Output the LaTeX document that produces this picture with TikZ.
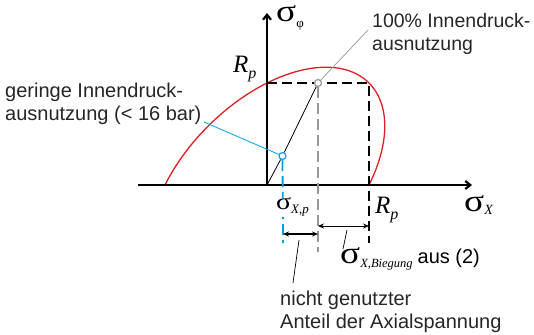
\documentclass[tikz,border=0pt]{standalone}
\usepackage{fontspec}
\setmainfont{Liberation Sans}
\newfontfamily\grk{Liberation Serif}
\usetikzlibrary{arrows.meta}
\definecolor{cyanblue}{RGB}{0,160,227}
\definecolor{curvered}{RGB}{225,30,36}
\definecolor{midgray}{RGB}{150,150,150}
\newcommand{\sig}[1][1]{\raisebox{0pt}[10pt][0pt]{\scalebox{#1}{\grk\fontsize{31}{31}\selectfont\scalebox{1.2}[1]{σ}}}}
\newcommand{\Rp}{{\grk\itshape\fontsize{25}{25}\selectfont R}\raisebox{-6pt}{\grk\itshape\fontsize{16}{16}\selectfont p}}
\begin{document}
\begin{tikzpicture}[x=1pt,y=-1pt,
  axisline/.style={line width=2.2pt,-{Straight Barb[length=5pt,width=8pt]}},
  dashblack/.style={line width=2.2pt,dash pattern=on 10pt off 5pt},
  dashgray/.style={line width=1.8pt,midgray,dash pattern=on 11pt off 5pt},
  dashblue/.style={line width=1.8pt,cyanblue,dash pattern=on 11pt off 5pt},
  lbl/.style={inner sep=0pt,font=\fontsize{20}{23}\selectfont,align=left,text=black!85},
  sym/.style={inner sep=0pt,anchor=base west},
  dimarrow/.style={{Stealth[length=6pt,width=5pt]}-{Stealth[length=6pt,width=5pt]}},
  ptmark/.style={circle,line width=1.2pt,fill=white,inner sep=0pt,minimum size=7pt}
]
\useasboundingbox (0,0) rectangle (534,334);

\coordinate (O) at (267,185);
\coordinate (xstart) at (138,185);
\coordinate (xend) at (472,185);
\coordinate (yend) at (267,13);
\coordinate (RpY) at (267,83);
\coordinate (corner) at (369,83);
\coordinate (Rpdown) at (369,243);
\coordinate (gdown) at (318,252);
\coordinate (bdown) at (283,243);
\coordinate (lead100) at (368,30);
\coordinate (leadlow) at (204,122);
\coordinate (a1) at (283,234);
\coordinate (a2) at (318,234);
\coordinate (b1) at (318,226);
\coordinate (b2) at (369,226);
\coordinate (la1) at (299,240);
\coordinate (la2) at (293,283);
\coordinate (lb1) at (347,230);
\coordinate (lb2) at (343,249);

% von Mises ellipse (upper part)
\draw[curvered,line width=1.3pt] plot[domain=-120:60,samples=120,variable=\t]
  ({267+102*(cos(\t)+sin(\t)/sqrt(3))},{185-102*(cos(\t)-sin(\t)/sqrt(3))});

% axes
\draw[axisline] (xstart) -- (xend);
\draw[axisline] (O) -- (yend);

% Rp box
\draw[dashblack] (RpY) -- (corner) -- (Rpdown);

% load line
\node[ptmark,draw=midgray] (pt100) at (318,83) {};
\node[ptmark,draw=cyanblue] (ptlow) at (282.5,156) {};
\draw[line width=0.8pt] (O) -- (ptlow);
\draw[line width=0.8pt] (ptlow) -- (pt100);

% verticals
\draw[dashgray] (pt100.south) -- (gdown);
\draw[dashblue] (ptlow.south) -- (bdown);

% leaders
\draw[midgray,line width=0.7pt] (pt100) -- (lead100);
\draw[cyanblue,line width=0.8pt] (leadlow) -- (ptlow);

% dimension arrows
\draw[dimarrow,line width=1.6pt] (a1) -- (a2);
\draw[dimarrow,line width=0.8pt] (b1) -- (b2);
\draw[line width=0.7pt] (la1) -- (la2);
\draw[line width=0.7pt] (lb1) -- (lb2);

% labels
\node[lbl,anchor=north west,font=\fontsize{19.5}{23}\selectfont] (t100) at (372,13) {100\% Innendruck-\\ausnutzung};
\node[lbl,anchor=north west] (tlow) at (5,83) {geringe Innendruck-\\ausnutzung (< 16 bar)};
\node[lbl,anchor=north west,font=\fontsize{20}{23}\selectfont] (tanteil) at (280,291) {nicht genutzter\\Anteil der Axialspannung};

\node[sym] (sphi) at (276,21.5) {\sig\raisebox{-6pt}{\grk\fontsize{13}{13}\selectfont φ}};
\node[sym] (sx) at (464,211.5) {\sig\raisebox{-3pt}{\grk\itshape\fontsize{14}{14}\selectfont X}};
\node[sym] (rpx) at (375,213) {\Rp};
\node[sym] (rpy) at (233,73) {\Rp};
\node[sym,fill=white,inner sep=1pt] (sxp) at (275,209) {\sig[0.75]\raisebox{-4pt}{\grk\itshape\fontsize{13}{13}\selectfont X,p}};
\node[sym] (sxb) at (340,263) {\sig\raisebox{-4pt}{\grk\itshape\fontsize{12.5}{12.5}\selectfont X,Biegung}\hspace{5pt}{\fontsize{20}{20}\selectfont aus (2)}};
\end{tikzpicture}
\end{document}
